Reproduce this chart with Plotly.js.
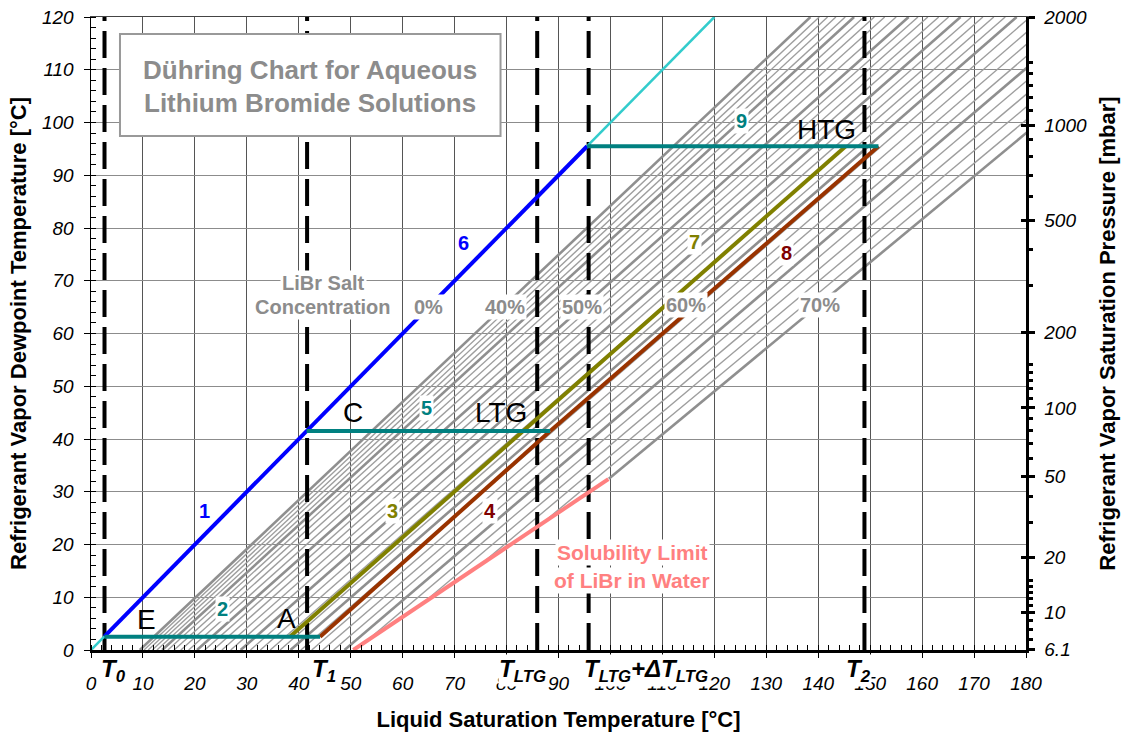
<!DOCTYPE html>
<html>
<head>
<meta charset="utf-8">
<script src="https://cdn.plot.ly/plotly-3.0.1.min.js"></script>
<style>html,body{margin:0;padding:0;background:#fff;}</style>
</head>
<body>
<div id="chart" style="width:1125px;height:735px;"></div>
<script>
// ---------------- DATA ----------------
// LiBr mass concentration isolines (Dühring lines), %
const concentrations = [40,41,42,43,44,45,46,47,48,49,50,51,52,53,54,55,56,57,58,59,60,61,62,63,64,65,66,67,68,69,70];
// liquid saturation temperature [°C] where each isoline meets dewpoint 0 °C
const liquidTempAtDew0 = [9.4,10.2,11.0,11.8,12.7,13.7,14.8,16.0,17.3,18.8,20.4,21.9,23.5,25.2,26.9,28.8,30.7,32.6,34.5,36.4,38.4,40.4,42.5,44.6,46.7,48.8,51.0,53.2,55.4,57.6,59.9];
// liquid saturation temperature [°C] where each isoline meets dewpoint 120 °C
const liquidTempAtDew120 = [138.5,140.2,141.8,143.4,145.2,146.9,148.8,150.8,152.8,155.0,157.4,159.2,161.1,163.2,165.1,167.4,169.5,171.7,173.8,176.0,178.2,180.8,183.5,186.2,188.9,191.6,194.6,197.7,200.7,203.8,207.0];

// crystallisation (solubility) limit
const solubilityLiquid = [50.5, 99.6];
const solubilityDew = [0, 32.4];

// pure water (0 %) line
const waterLiquid = [0, 120];
const waterDew = [0, 120];

// cycle lines
const line1_6Liquid = [2.6, 95.5];   const line1_6Dew = [2.6, 95.5];
const line2Liquid = [2.6, 44.1];     const line2Dew = [2.5, 2.5];
const line5Liquid = [41.5, 88.4];    const line5Dew = [41.5, 41.5];
const line9Liquid = [95.5, 151.6];   const line9Dew = [95.5, 95.5];
const line3_7Liquid = [38.3, 145.3]; const line3_7Dew = [2.5, 95.5];
const line4Liquid = [44.1, 88.4];    const line4Dew = [2.5, 41.5];
const line8Liquid = [88.4, 151.6];   const line8Dew = [41.5, 95.5];

// characteristic temperatures (vertical dashed lines)
const markerTemps = [2.6, 41.6, 85.9, 95.8, 148.9];
const markerLabels = ['T<sub>0</sub>', 'T<sub>1</sub>', 'T<sub>LTG</sub>', 'T<sub>LTG</sub>+ΔT<sub>LTG</sub>', 'T<sub>2</sub>'];

// axis ticks
const xTickVals = [0,10,20,30,40,50,60,70,80,90,100,110,120,130,140,150,160,170,180];
const yTickVals = [0,10,20,30,40,50,60,70,80,90,100,110,120];
const pressureMajor = [6.1, 10, 20, 50, 100, 200, 500, 1000, 2000];
const pressureMajorText = ['6.1','10','20','50','100','200','500','1000','2000'];
const pressureMinor = [7,8,9,11,12,13,14,15,30,40,60,70,80,90,110,120,130,140,150,300,400,600,700,800,900,1100,1200,1300,1400,1500];

// ---------------- HELPERS ----------------
function satTempC(mbar){ // Antoine equation for water, clamped to the axis range
  const L = Math.log10(mbar/1.33322);
  let t = 1730.63/(8.07131-L) - 233.426;
  if (t > 99) t = 1810.94/(8.14019-L) - 244.485;
  return Math.min(t, 120);
}

// build hatch (isolines), cut at the solubility limit
const solSlope = (solubilityLiquid[1]-solubilityLiquid[0])/(solubilityDew[1]-solubilityDew[0]);
const thinX=[], thinY=[], thickX=[], thickY=[];
concentrations.forEach((c,i)=>{
  const x0 = liquidTempAtDew0[i], x1 = liquidTempAtDew120[i];
  const s = (x1-x0)/120;
  let y0 = 0;
  if (x0 > solubilityLiquid[0]) y0 = (x0-solubilityLiquid[0])/(solSlope - s);
  const X = c%5===0 ? thickX : thinX, Y = c%5===0 ? thickY : thinY;
  X.push(x0 + s*y0, x1, null); Y.push(y0, 120, null);
});

const dashX=[], dashY=[];
markerTemps.forEach(t=>{ dashX.push(t,t,null); dashY.push(0,120,null); });

const FONT = 'Liberation Sans, Arial, sans-serif';
const NARROW = 'Liberation Sans Narrow, Arial Narrow, Liberation Sans, Arial, sans-serif';

function ln(x,y,color,width,extra){
  return Object.assign({x:x,y:y,type:'scatter',mode:'lines',line:{color:color,width:width},hoverinfo:'skip',showlegend:false}, extra||{});
}

const traces = [
  ln(thinX, thinY, '#9e9e9e', 1.4),
  ln(thickX, thickY, '#8f8f8f', 2.6),
  ln(dashX, dashY, '#000000', 4, {line:{color:'#000',width:4,dash:'27px,10px'}}),
  ln(waterLiquid, waterDew, '#33cccc', 2.5),
  ln(line1_6Liquid, line1_6Dew, '#0000ff', 4),
  ln(solubilityLiquid, solubilityDew, '#ff8080', 4),
  ln(line3_7Liquid, line3_7Dew, '#808000', 4),
  ln(line4Liquid, line4Dew, '#993300', 4),
  ln(line8Liquid, line8Dew, '#993300', 4),
  ln(line2Liquid, line2Dew, '#008080', 4),
  ln(line5Liquid, line5Dew, '#008080', 4),
  ln(line9Liquid, line9Dew, '#008080', 4),
  // helpers so the overlay axes are drawn
  {x:[null],y:[null],xaxis:'x2',yaxis:'y',showlegend:false,hoverinfo:'skip'},
  {x:[null],y:[null],xaxis:'x',yaxis:'y2',showlegend:false,hoverinfo:'skip'},
  {x:[null],y:[null],xaxis:'x',yaxis:'y3',showlegend:false,hoverinfo:'skip'},
  {x:[null],y:[null],xaxis:'x',yaxis:'y4',showlegend:false,hoverinfo:'skip'}
];

const annotations = [];
function label(x,y,text,color,size,bold,bg){
  annotations.push({x:x,y:y,xref:'x',yref:'y',xanchor:'center',yanchor:'middle',text:bold?'<b>'+text+'</b>':text,showarrow:false,
    font:{family:FONT,size:size,color:color},bgcolor:bg?'#ffffff':'rgba(0,0,0,0)',borderpad:1});
}
// cycle numbers
const numText = ['1','2','3','4','5','6','7','8','9'];
const numX = [21.8,25.4,58.1,76.8,64.5,71.8,116.1,133.8,125.3];
const numY = [26.4,7.8,26.4,26.4,45.9,77.2,77.3,75.3,100.3];
const numColor = ['#0000ff','#008080','#808000','#800000','#008080','#0000ff','#808000','#800000','#008080'];
numText.forEach((t,i)=>label(numX[i],numY[i],t,numColor[i],20,true,true));
// state points
const ptText = ['E','A','C','LTG','HTG'];
const ptX = [10.6,37.7,50.4,78.9,141.5];
const ptY = [5.7,5.9,45.1,45.1,98.6];
ptText.forEach((t,i)=>label(ptX[i],ptY[i],t,'#000000',28,false,false));
// concentration labels
const concText = ['LiBr Salt','Concentration','0%','40%','50%','60%','70%'];
const concX = [44.7,44.7,64.9,79.7,94.5,114.6,140.4];
const concY = [69.6,65.0,65.0,65.0,65.0,65.4,65.4];
concText.forEach((t,i)=>label(concX[i],concY[i],t,'#8c8c8c',20,true,true));
// solubility text
label(104.2,18.4,'Solubility Limit','#ff8080',21,true,true);
label(104.2,13.1,'of LiBr in Water','#ff8080',21,true,true);
// title box
annotations.push({xref:'paper',yref:'paper',xanchor:'center',yanchor:'middle',x:0.2345,y:0.9165,text:'<b>Dühring Chart for Aqueous</b>',showarrow:false,font:{family:FONT,size:26,color:'#8c8c8c'}});
annotations.push({xref:'paper',yref:'paper',xanchor:'center',yanchor:'middle',x:0.2345,y:0.8645,text:'<b>Lithium Bromide Solutions</b>',showarrow:false,font:{family:FONT,size:26,color:'#8c8c8c'}});
// temperature marker labels
const markerAnchor = ['left','left','right','left','center'];
const markerShift = [-5,4,10,-6,-6];
markerTemps.forEach((t,i)=>{
  annotations.push({x:t,y:0,xref:'x',yref:'paper',yanchor:'top',xanchor:markerAnchor[i],xshift:markerShift[i],yshift:-4,
    text:'<b><i>'+markerLabels[i]+'</i></b>',showarrow:false,bgcolor:'#ffffff',borderpad:0,
    font:{family:FONT,size:24,color:'#000'}});
});

const tickFont = {family:NARROW,size:19,color:'#000',style:'italic'};
const titleFont = {family:FONT,size:22,color:'#000',weight:'bold'};

const layout = {
  width:1125, height:735,
  margin:{l:91,r:99,t:17,b:85},
  paper_bgcolor:'#ffffff', plot_bgcolor:'#ffffff',
  showlegend:false,
  xaxis:{range:[0,180],tickmode:'array',tickvals:xTickVals,ticks:'outside',ticklen:5,tickcolor:'#000',
    showgrid:true,gridcolor:'#555555',gridwidth:1,zeroline:false,showline:true,linecolor:'#000',linewidth:2.5,
    minor:{dtick:2,ticks:'inside',ticklen:5,tickcolor:'#000',showgrid:false},
    tickfont:tickFont,ticklabelstandoff:10,
    title:{text:'Liquid Saturation Temperature [°C]',font:titleFont,standoff:19}},
  xaxis2:{range:[0,180],overlaying:'x',side:'top',anchor:'y',showline:true,linecolor:'#444',linewidth:1,
    showticklabels:false,ticks:'',showgrid:false,zeroline:false},
  yaxis:{range:[0,120],tickmode:'array',tickvals:yTickVals,ticks:'outside',ticklen:6,tickcolor:'#000',
    showgrid:true,gridcolor:'#8c8c8c',gridwidth:1,zeroline:false,showline:true,linecolor:'#000',linewidth:1.5,
    minor:{dtick:2,ticks:'inside',ticklen:5,tickcolor:'#000',showgrid:false},
    tickfont:tickFont,ticklabelstandoff:6,
    title:{text:'Refrigerant Vapor Dewpoint Temperature [°C]',font:titleFont,standoff:9}},
  yaxis2:{range:[0,120],overlaying:'y',side:'right',anchor:'x',tickmode:'array',tickvals:pressureMajor.map(satTempC),ticktext:pressureMajorText,
    ticks:'outside',ticklen:6,tickwidth:3,tickcolor:'#000',showgrid:false,zeroline:false,showline:true,linecolor:'#000',linewidth:2.5,
    tickfont:tickFont,ticklabelstandoff:6,
    title:{text:'Refrigerant Vapor Saturation Pressure [mbar]',font:titleFont,standoff:14}},
  yaxis3:{range:[0,120],overlaying:'y',side:'right',anchor:'x',tickmode:'array',tickvals:pressureMinor.map(satTempC),
    ticks:'outside',ticklen:6,tickwidth:3,tickcolor:'#000',showticklabels:false,showgrid:false,zeroline:false,showline:false},
  yaxis4:{range:[0,120],overlaying:'y',side:'right',anchor:'x',tickmode:'array',tickvals:pressureMajor.map(satTempC),
    ticks:'inside',ticklen:5,tickwidth:3,tickcolor:'#000',showticklabels:false,showgrid:false,zeroline:false,showline:false},
  shapes:[{type:'rect',xref:'paper',yref:'paper',x0:0.031,x1:0.438,y0:0.812,y1:0.973,line:{color:'#999999',width:2},fillcolor:'#ffffff',layer:'above'}],
  annotations:annotations
};

Plotly.newPlot('chart', traces, layout, {staticPlot:true, displayModeBar:false});
</script>
</body>
</html>
